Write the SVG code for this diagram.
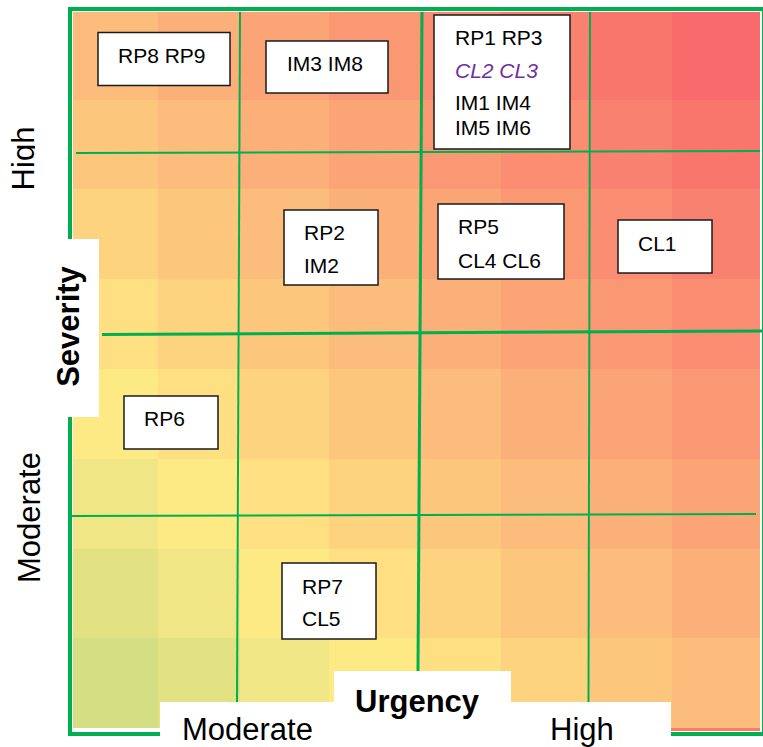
<svg xmlns="http://www.w3.org/2000/svg" width="763" height="747" viewBox="0 0 763 747">
<defs>
<style>
.t{shape-rendering:crispEdges}
.v0{fill:#D4DE82}.v1{fill:#E3E283}.v2{fill:#F1E686}.v3{fill:#FEEA84}.v4{fill:#FEDF81}
.v5{fill:#FDD37F}.v6{fill:#FCC77D}.v7{fill:#FCBC7B}.v8{fill:#FBB079}.v9{fill:#FBA476}
.v10{fill:#FA9874}.v11{fill:#FA8D72}.v12{fill:#F98170}.v13{fill:#F9766D}.v14{fill:#F86A6B}
.g{stroke:#00B050;fill:none}
.box{fill:#fff;stroke:#1a1a1a;stroke-width:1.5}
.lbl{font-family:"Liberation Sans",Arial,sans-serif;font-size:21px;fill:#000}
.ax{font-family:"Liberation Sans",Arial,sans-serif;font-size:31px;fill:#000}
.b{font-weight:bold}
</style>
<clipPath id="clipHigh" clipPathUnits="userSpaceOnUse"><rect x="0" y="0" width="35" height="747"/></clipPath>
</defs>
<rect width="763" height="747" fill="#fff"/>
<g id="heatmap" class="t">
<rect class="v7" x="73" y="12" width="85" height="88"/><rect class="v8" x="158" y="12" width="82" height="88"/><rect class="v9" x="240" y="12" width="89" height="88"/><rect class="v10" x="329" y="12" width="91" height="88"/><rect class="v11" x="420" y="12" width="81" height="88"/><rect class="v12" x="501" y="12" width="89" height="88"/><rect class="v13" x="590" y="12" width="82" height="88"/><rect class="v14" x="672" y="12" width="88" height="88"/>
<rect class="v6" x="73" y="100" width="85" height="89"/><rect class="v7" x="158" y="100" width="82" height="89"/><rect class="v8" x="240" y="100" width="89" height="89"/><rect class="v9" x="329" y="100" width="91" height="89"/><rect class="v10" x="420" y="100" width="81" height="89"/><rect class="v11" x="501" y="100" width="89" height="89"/><rect class="v12" x="590" y="100" width="82" height="89"/><rect class="v13" x="672" y="100" width="88" height="89"/>
<rect class="v5" x="73" y="189" width="85" height="90"/><rect class="v6" x="158" y="189" width="82" height="90"/><rect class="v7" x="240" y="189" width="89" height="90"/><rect class="v8" x="329" y="189" width="91" height="90"/><rect class="v9" x="420" y="189" width="81" height="90"/><rect class="v10" x="501" y="189" width="89" height="90"/><rect class="v11" x="590" y="189" width="82" height="90"/><rect class="v12" x="672" y="189" width="88" height="90"/>
<rect class="v4" x="73" y="279" width="85" height="90"/><rect class="v5" x="158" y="279" width="82" height="90"/><rect class="v6" x="240" y="279" width="89" height="90"/><rect class="v7" x="329" y="279" width="91" height="90"/><rect class="v8" x="420" y="279" width="81" height="90"/><rect class="v9" x="501" y="279" width="89" height="90"/><rect class="v10" x="590" y="279" width="82" height="90"/><rect class="v11" x="672" y="279" width="88" height="90"/>
<rect class="v3" x="73" y="369" width="85" height="90"/><rect class="v4" x="158" y="369" width="82" height="90"/><rect class="v5" x="240" y="369" width="89" height="90"/><rect class="v6" x="329" y="369" width="91" height="90"/><rect class="v7" x="420" y="369" width="81" height="90"/><rect class="v8" x="501" y="369" width="89" height="90"/><rect class="v9" x="590" y="369" width="82" height="90"/><rect class="v10" x="672" y="369" width="88" height="90"/>
<rect class="v2" x="73" y="459" width="85" height="90"/><rect class="v3" x="158" y="459" width="82" height="90"/><rect class="v4" x="240" y="459" width="89" height="90"/><rect class="v5" x="329" y="459" width="91" height="90"/><rect class="v6" x="420" y="459" width="81" height="90"/><rect class="v7" x="501" y="459" width="89" height="90"/><rect class="v8" x="590" y="459" width="82" height="90"/><rect class="v9" x="672" y="459" width="88" height="90"/>
<rect class="v1" x="73" y="549" width="85" height="89"/><rect class="v2" x="158" y="549" width="82" height="89"/><rect class="v3" x="240" y="549" width="89" height="89"/><rect class="v4" x="329" y="549" width="91" height="89"/><rect class="v5" x="420" y="549" width="81" height="89"/><rect class="v6" x="501" y="549" width="89" height="89"/><rect class="v7" x="590" y="549" width="82" height="89"/><rect class="v8" x="672" y="549" width="88" height="89"/>
<rect class="v0" x="73" y="638" width="85" height="90"/><rect class="v1" x="158" y="638" width="82" height="90"/><rect class="v2" x="240" y="638" width="89" height="90"/><rect class="v3" x="329" y="638" width="91" height="90"/><rect class="v4" x="420" y="638" width="81" height="90"/><rect class="v5" x="501" y="638" width="89" height="90"/><rect class="v6" x="590" y="638" width="82" height="90"/><rect class="v7" x="672" y="638" width="88" height="90"/>
<rect x="671" y="728" width="89" height="3" fill="#FD7B6E"/>
</g>
<g id="grid">
<rect class="g" x="70" y="9" width="694" height="725" stroke-width="4"/>
<line class="g" x1="240" y1="12" x2="237" y2="702" stroke-width="2"/>
<line class="g" x1="422" y1="12" x2="418" y2="671" stroke-width="3"/>
<line class="g" x1="590" y1="12" x2="588.5" y2="702" stroke-width="2"/>
<line class="g" x1="76" y1="153" x2="760" y2="151" stroke-width="2"/>
<line class="g" x1="102" y1="334.5" x2="763" y2="331" stroke-width="3"/>
<line class="g" x1="72" y1="516" x2="756" y2="514" stroke-width="2"/>
</g>
<g id="axis-labels">
<rect x="0" y="239" width="99" height="178" fill="#fff"/>
<rect x="334" y="671" width="177" height="76" fill="#fff"/>
<rect x="160" y="702" width="511" height="45" fill="#fff"/>
<g clip-path="url(#clipHigh)">
<text class="ax" transform="translate(34,158.5) rotate(-90)" text-anchor="middle" font-size="30">High</text>
</g>
<text class="ax" transform="translate(40,517.5) rotate(-90)" text-anchor="middle">Moderate</text>
<text class="ax b" transform="translate(78.5,326.5) rotate(-90)" text-anchor="middle">Severity</text>
<text class="ax b" x="355" y="712">Urgency</text>
<text class="ax" x="182" y="740">Moderate</text>
<text class="ax" x="550" y="740">High</text>
</g>
<g id="node-rp8-rp9">
<rect class="box" x="98" y="32.5" width="132" height="53"/>
<text class="lbl" x="118" y="63">RP8 RP9</text>
</g>
<g id="node-im3-im8">
<rect class="box" x="266" y="41" width="122" height="52"/>
<text class="lbl" x="287" y="71">IM3 IM8</text>
</g>
<g id="node-rp1-group">
<rect class="box" x="434" y="15" width="136" height="134"/>
<text class="lbl" x="455" y="45">RP1 RP3</text>
<text class="lbl" x="455" y="78" font-style="italic" style="fill:#7030A0">CL2 CL3</text>
<text class="lbl" x="455" y="110">IM1 IM4</text>
<text class="lbl" x="455" y="135">IM5 IM6</text>
</g>
<g id="node-rp2-im2">
<rect class="box" x="284" y="210" width="94" height="75"/>
<text class="lbl" x="304" y="240">RP2</text>
<text class="lbl" x="304" y="273">IM2</text>
</g>
<g id="node-rp5-cl4-cl6">
<rect class="box" x="438" y="204" width="126" height="75"/>
<text class="lbl" x="458" y="234">RP5</text>
<text class="lbl" x="458" y="268">CL4 CL6</text>
</g>
<g id="node-cl1">
<rect class="box" x="618" y="220" width="94" height="53"/>
<text class="lbl" x="638" y="251">CL1</text>
</g>
<g id="node-rp6">
<rect class="box" x="124" y="396" width="94" height="53"/>
<text class="lbl" x="144" y="426">RP6</text>
</g>
<g id="node-rp7-cl5">
<rect class="box" x="282" y="563" width="94" height="76"/>
<text class="lbl" x="302" y="594">RP7</text>
<text class="lbl" x="302" y="626">CL5</text>
</g>
</svg>
